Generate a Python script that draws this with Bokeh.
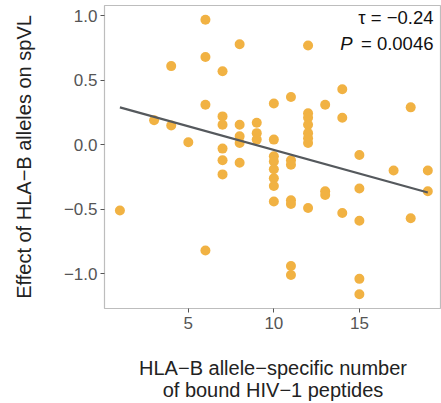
from bokeh.plotting import figure
from bokeh.models import Label, FixedTicker, Range1d
from bokeh.layouts import column
from bokeh.core.properties import value
from bokeh.embed import file_html
from bokeh.resources import INLINE

# Data
peptides = [1, 3, 4, 4, 5,
            6, 6, 6, 6,
            7, 7, 7, 7, 7, 7,
            8, 8, 8, 8, 8,
            9, 9, 9,
            10, 10, 10, 10, 10, 10, 10, 10,
            11, 11, 11, 11, 11, 11, 11,
            12, 12, 12, 12, 12, 12, 12, 12,
            13, 13, 13,
            14, 14, 14,
            15, 15, 15, 15, 15,
            17, 18, 18, 19, 19]
effect = [-0.51, 0.19, 0.61, 0.15, 0.02,
          0.97, 0.68, 0.31, -0.82,
          0.57, 0.22, 0.155, -0.03, -0.12, -0.23,
          0.78, 0.155, 0.065, 0.013, -0.14,
          0.17, 0.09, 0.04,
          0.32, 0.04, -0.09, -0.13, -0.19, -0.26, -0.32, -0.44,
          0.37, -0.12, -0.155, -0.43, -0.46, -0.94, -1.01,
          0.77, 0.245, 0.21, 0.155, 0.09, 0.05, 0.013, -0.49,
          0.31, -0.36, -0.39,
          0.43, 0.21, -0.53,
          -0.08, -0.34, -0.59, -1.04, -1.16,
          -0.2, 0.29, -0.57, -0.2, -0.36]
fit_x = [1, 19]
fit_y = [0.29, -0.37]
x_ticks = [5, 10, 15]
y_ticks = [-1.0, -0.5, 0.0, 0.5, 1.0]
y_tick_labels = ["\u22121.0", "\u22120.5", "0.0", "0.5", "1.0"]
x_title_lines = ["HLA\u2212B allele\u2212specific number", "of bound HIV\u22121 peptides"]
y_title = "Effect of HLA\u2212B alleles on spVL"
tau_text = "\u03c4 = \u22120.24"
p_text = "= 0.0046"

FONT = "Liberation Sans"
W = 441
PLOT_H = 345
TITLE_H = 403 - PLOT_H
X_MIN, X_MAX = 0.1, 19.8

p = figure(width=W, height=PLOT_H, output_backend="svg", toolbar_location=None,
           x_range=Range1d(X_MIN, X_MAX), y_range=Range1d(-1.27, 1.08),
           min_border_left=104, min_border_right=0, min_border_top=5,
           min_border_bottom=37)
p.grid.visible = False
p.outline_line_color = "#bdbdbd"
p.outline_line_width = 1.2
p.background_fill_color = "white"

p.scatter(peptides, effect, size=10, color="#F1B243", line_color=None)
p.line(fit_x, fit_y, line_color="#55595d", line_width=2.2)

for ax in (p.xaxis[0], p.yaxis[0]):
    ax.axis_line_color = None
    ax.major_tick_line_color = "#555555"
    ax.major_tick_out = 4
    ax.major_tick_in = 0
    ax.minor_tick_line_color = None
    ax.major_label_text_font = FONT
    ax.major_label_text_font_size = "17px"
    ax.major_label_text_color = "#555555"
    ax.axis_label_text_font = FONT
    ax.axis_label_text_font_size = "20px"
    ax.axis_label_text_font_style = "normal"
    ax.axis_label_text_color = "#222222"

p.xaxis.ticker = FixedTicker(ticks=x_ticks)
p.yaxis.ticker = FixedTicker(ticks=y_ticks)
p.yaxis.major_label_overrides = {t: l for t, l in zip(y_ticks, y_tick_labels)}
p.xaxis.major_label_standoff = 4
p.yaxis.major_label_standoff = 3
p.yaxis.axis_label = y_title
p.yaxis.axis_label_standoff = 26

p.add_layout(Label(x=19.33, y=0.99, text=tau_text, text_align="right",
                   text_baseline="middle", text_font=FONT,
                   text_font_size="18.5px", text_color="#111111"))
p.add_layout(Label(x=19.33, y=0.785, text=p_text, text_align="right",
                   text_baseline="middle", text_font=FONT,
                   text_font_size="18.5px", text_color="#111111"))
p.add_layout(Label(x=14.6, y=0.785, text="P", text_align="right",
                   text_baseline="middle", text_font=FONT,
                   text_font_style="italic",
                   text_font_size="18.5px", text_color="#111111"))

# x-axis title strip below the plot (two lines), frame aligned with the plot
pt = figure(width=W, height=TITLE_H, output_backend="svg", toolbar_location=None,
            x_range=p.x_range, y_range=Range1d(0, TITLE_H),
            min_border_left=0, min_border_right=0, min_border_top=0,
            min_border_bottom=0)
pt.axis.visible = False
pt.grid.visible = False
pt.outline_line_color = None
xc = (X_MIN + X_MAX) / 2
pt.text(x=[xc, xc], y=[TITLE_H - 22, TITLE_H - 44], text=x_title_lines,
        text_align="center", text_baseline="middle",
        text_font=value(FONT), text_font_size="20px", text_color="#222222")

layout = column(p, pt, spacing=0)
open("out.html", "w").write(file_html(layout, INLINE))
